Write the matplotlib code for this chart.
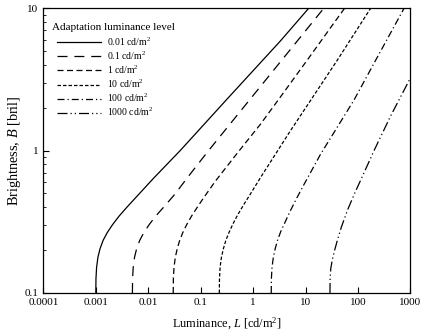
import matplotlib
matplotlib.use("Agg")
import matplotlib.pyplot as plt
from matplotlib.ticker import FixedLocator, FuncFormatter, LogLocator, NullLocator

plt.rcParams["font.family"] = "Liberation Serif"
plt.rcParams["mathtext.fontset"] = "custom"
plt.rcParams["mathtext.rm"] = "Liberation Serif"
plt.rcParams["mathtext.it"] = "Liberation Serif:italic"

# ---------------- Data ----------------
labels = ["0.01 cd/m$^2$", "0.1 cd/m$^2$", "1 cd/m$^2$",
          "10 cd/m$^2$", "100 cd/m$^2$", "1000 cd/m$^2$"]

# log10 luminance / log10 brightness pairs for each adaptation level
logL_001 = [-3.000, -2.997, -2.985, -2.960, -2.920, -2.860, -2.780, -2.680, -2.560,
            -2.400, -2.200, -1.900, -1.390, -0.500, 0.522, 1.063]
logB_001 = [-1.000, -0.900, -0.820, -0.750, -0.690, -0.630, -0.575, -0.520, -0.462,
            -0.395, -0.315, -0.195, 0.000, 0.360, 0.770, 1.000]

logL_01 = [-2.302, -2.299, -2.287, -2.262, -2.222, -2.162, -2.082, -1.982, -1.862,
           -1.700, -1.500, -1.200, -0.849, 0.140, 1.350]
logB_01 = [-1.000, -0.900, -0.820, -0.750, -0.690, -0.630, -0.575, -0.520, -0.462,
           -0.395, -0.310, -0.165, 0.000, 0.450, 1.000]

logL_1 = [-1.524, -1.521, -1.509, -1.484, -1.448, -1.400, -1.340, -1.260, -1.174,
          -1.060, -0.950, -0.720, -0.306, 0.140, 0.459, 1.032, 1.746]
logB_1 = [-1.000, -0.900, -0.820, -0.750, -0.690, -0.630, -0.575, -0.515, -0.460,
          -0.395, -0.335, -0.215, -0.020, 0.185, 0.345, 0.635, 1.000]

logL_10 = [-0.645, -0.642, -0.630, -0.605, -0.568, -0.520, -0.460, -0.385, -0.300,
           -0.180, -0.052, 0.140, 0.713, 1.606, 2.243]
logB_10 = [-1.000, -0.900, -0.820, -0.750, -0.690, -0.630, -0.575, -0.515, -0.455,
           -0.380, -0.305, -0.190, 0.140, 0.635, 1.000]

logL_100 = [0.345, 0.348, 0.360, 0.385, 0.420, 0.465, 0.525, 0.600, 0.700,
            0.830, 0.967, 1.287, 1.606, 1.924, 2.338, 2.880]
logB_100 = [-1.000, -0.900, -0.820, -0.750, -0.690, -0.630, -0.570, -0.510, -0.430,
            -0.335, -0.240, -0.025, 0.165, 0.355, 0.635, 1.000]

logL_1000 = [1.465, 1.468, 1.480, 1.510, 1.550, 1.606, 1.680, 1.797, 1.930,
             2.060, 2.306, 2.625, 3.000]
logB_1000 = [-1.000, -0.900, -0.830, -0.765, -0.705, -0.630, -0.540, -0.420, -0.305,
             -0.200, 0.000, 0.245, 0.510]

x_ticks = [0.0001, 0.001, 0.01, 0.1, 1, 10, 100, 1000]
y_ticks = [0.1, 1, 10]

curves = [(logL_001, logB_001), (logL_01, logB_01), (logL_1, logB_1),
          (logL_10, logB_10), (logL_100, logB_100), (logL_1000, logB_1000)]
styles = ["-", (0, (8, 5.5)), (0, (4.8, 2.8)), (0, (2.8, 1.6)),
          (0, (5.6, 2.4, 1, 2.4)), (0, (8, 2.4, 1, 2.4, 1, 2.4))]

# ---------------- Plot ----------------
fig = plt.figure(figsize=(4.21, 3.36), dpi=100)
ax = fig.add_axes([0.103, 0.128, 0.872, 0.848])

for (lx, ly), ls, lab in zip(curves, styles, labels):
    L = [10 ** v for v in lx]
    B = [10 ** v for v in ly]
    ax.plot(L, B, color="black", lw=0.9, linestyle=ls, label=lab)

ax.set_xscale("log")
ax.set_yscale("log")
ax.set_xlim(0.0001, 1000)
ax.set_ylim(0.1, 10)

fmt = FuncFormatter(lambda v, p: "%g" % v)
ax.xaxis.set_major_locator(FixedLocator(x_ticks))
ax.xaxis.set_major_formatter(fmt)
ax.xaxis.set_minor_locator(NullLocator())
ax.yaxis.set_major_locator(FixedLocator(y_ticks))
ax.yaxis.set_major_formatter(fmt)
ax.yaxis.set_minor_locator(LogLocator(base=10, subs=range(2, 10)))

ax.tick_params(which="both", direction="in", labelsize=8, top=False, right=False)
ax.tick_params(which="major", length=4, width=0.8)
ax.tick_params(which="minor", length=2.5, width=0.6)
for s in ax.spines.values():
    s.set_linewidth(0.9)

ax.set_xlabel("Luminance, $L$ [cd/m$^2$]", fontsize=8.8, labelpad=6.5)
ax.set_ylabel("Brightness, $B$ [bril]", fontsize=10.3, labelpad=1)

# legend title as its own text, entries slightly indented below it
ax.text(0.023, 0.933, "Adaptation luminance level", transform=ax.transAxes,
        fontsize=8, va="center", ha="left")
ax.legend(loc="upper left", frameon=False, fontsize=7, handlelength=4.6,
          handletextpad=0.6, labelspacing=0.18, borderaxespad=0.0,
          borderpad=0.0, bbox_to_anchor=(0.036, 0.905))

fig.savefig("out.png", dpi=100)
